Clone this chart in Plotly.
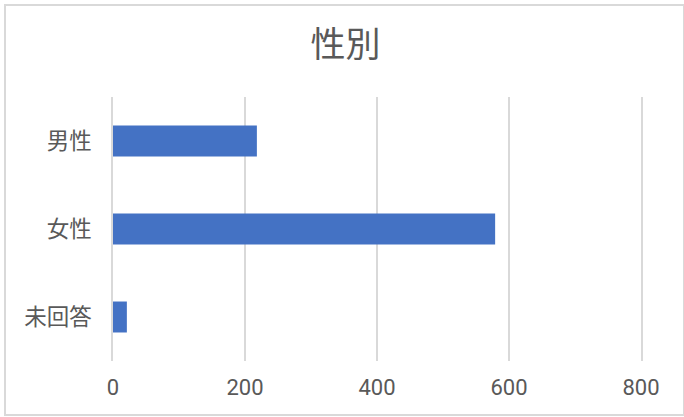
import plotly.graph_objects as go

categories = ["男性", "女性", "未回答"]
values = [218, 579, 21]
x_ticks = [0, 200, 400, 600, 800]
title_text = "性別"

W, H = 684, 417
L, R, T, B = 113, 43, 97, 56
pw, ph = W - L - R, H - T - B

fig = go.Figure(go.Bar(
    x=values, y=categories, orientation="h",
    marker=dict(color="#4472C4", line=dict(width=0)),
))

fig.update_layout(
    width=W, height=H,
    margin=dict(l=L, r=R, t=T, b=B),
    paper_bgcolor="white", plot_bgcolor="white",
    bargap=0.648,
    showlegend=False,
    font=dict(family="Noto Sans CJK JP", color="#595959"),
    title=dict(text=title_text, x=0.505, xanchor="center", y=1 - 45 / H,
               yanchor="middle", yref="container",
               font=dict(size=35, color="#595959", family="Noto Sans CJK JP")),
    xaxis=dict(range=[0, 800], tickvals=x_ticks, showgrid=True,
               gridcolor="#d9d9d9", gridwidth=1.5, zeroline=False,
               showline=False, ticks="",
               tickfont=dict(size=22, family="Roboto", color="#595959"),
               ticklabelstandoff=11),
    yaxis=dict(autorange="reversed", showgrid=False, zeroline=False,
               showline=True, mirror=True, linecolor="#d9d9d9", linewidth=1.5,
               ticks="",
               tickfont=dict(size=22.5, family="Noto Sans CJK JP", color="#595959"),
               ticklabelstandoff=15),
)

# outer chart border
fig.add_shape(type="rect", xref="paper", yref="paper",
              x0=(5 - L) / pw, x1=(684 - L) / pw,
              y0=(H - B - 415) / ph, y1=(H - B - 5) / ph,
              line=dict(color="#d9d9d9", width=2), layer="below")

fig.write_html("out.html")
